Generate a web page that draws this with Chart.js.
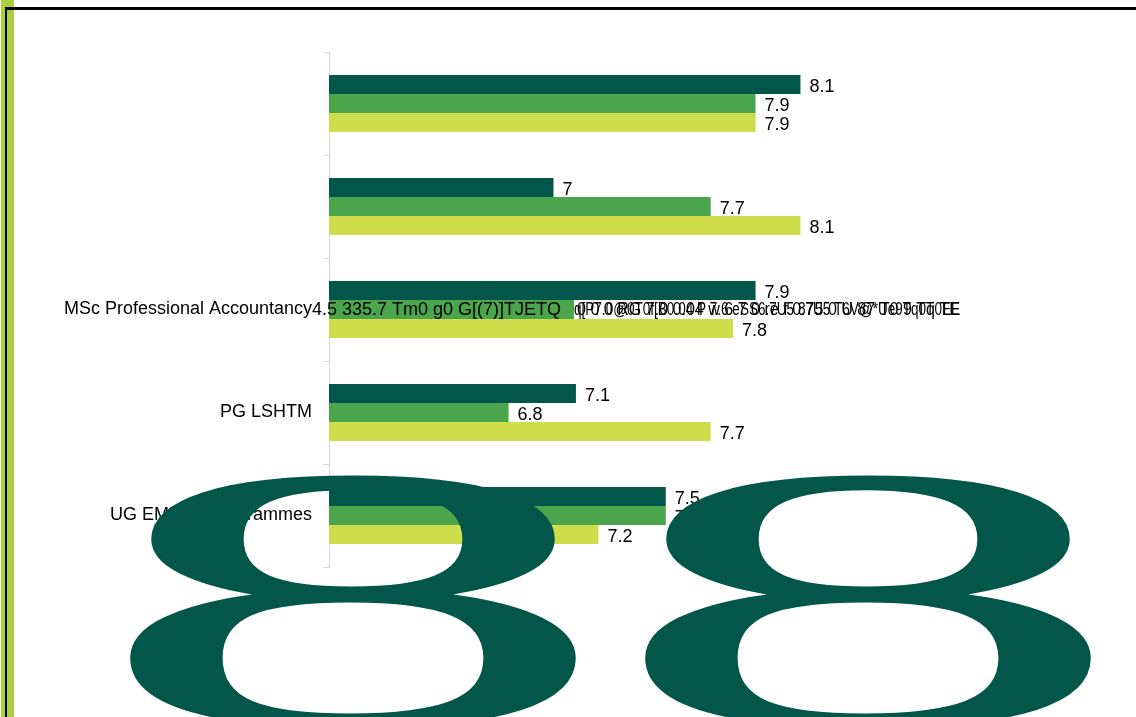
<!DOCTYPE html>
<html>
<head>
<meta charset="utf-8">
<script src="https://cdn.jsdelivr.net/npm/chart.js@4.4.1/dist/chart.umd.min.js"></script>
<style>
  html, body { margin: 0; padding: 0; background: #fff; overflow: hidden; }
  #wrap { position: relative; width: 1136px; height: 717px; }
</style>
</head>
<body>
<div id="wrap"><canvas id="chart" width="1136" height="717"></canvas></div>
<script>
// categorias (las dos primeras vienen sin texto en el original)
const categories = ["", "", "MSc Professional Accountancy", "PG LSHTM", "UG EMFSS Programmes"];

// series
const seriesNames = ["Series 1", "Series 2", "Series 3"];
const darkValues = [8.1, 7.0, 7.9, 7.1, 7.5];
const midValues = [7.9, 7.7, 7.1, 6.8, 7.5];
const lightValues = [7.9, 8.1, 7.8, 7.7, 7.2];

// texto basura que quedo pegado a la etiqueta del MSc
const garbledTail = "4.5 335.7 Tm0 g0 G[(7)]TJETQ";
const garbledOverprint = [
    "q[P7.0@0T0f[B0.04 P 7.6 eSS6.7U5 87U5 T6V@*Ue9Tq0T0EE",
    "0 0 0 RG 7.0 0.04 w 6 7 0 re f 0.75 0 U 87 T0 9 Tq TE"
];
const bigGlyphs = "88";

const COLORS = ["#02574a", "#4aa54d", "#cddd4c"];
const FONT = '"Liberation Sans", Arial, sans-serif';

const overlayPlugin = {
    id: "overlay",
    afterDraw(chart) {
        const ctx = chart.ctx;
        ctx.save();

        // etiquetas de valor
        ctx.font = "18px " + FONT;
        ctx.fillStyle = "#000";
        ctx.textBaseline = "middle";
        ctx.textAlign = "left";
        chart.data.datasets.forEach((ds, di) => {
            const meta = chart.getDatasetMeta(di);
            meta.data.forEach((bar, i) => {
                ctx.fillText(String(ds.data[i]), bar.x + 9, bar.y + 3);
            });
        });

        // cola de texto roto del MSc
        const yScale = chart.scales.y;
        const rowY = yScale.getPixelForValue(2);
        const labelRight = chart.chartArea.left - 17;
        ctx.fillText(garbledTail, labelRight, rowY + 1);

        const midBar = chart.getDatasetMeta(1).data[2];
        const startX = 574, endX = 960;
        ctx.fillStyle = "#fff";
        ctx.fillRect(startX, midBar.y - midBar.height / 2, endX - startX, midBar.height);
        ctx.fillStyle = "#000";
        garbledOverprint.forEach((s, k) => {
            ctx.fillText(s, startX + k * 3, rowY + 1, endX - startX - k * 3);
        });

        // los dos "8" gigantes
        const targetH = 257, targetW = 460, top = 473;
        const lefts = [123, 638];
        ctx.font = '400px "Liberation Serif", "Times New Roman", serif';
        ctx.textBaseline = "alphabetic";
        const m = ctx.measureText("8");
        const gH = m.actualBoundingBoxAscent + m.actualBoundingBoxDescent;
        const gW = m.actualBoundingBoxLeft + m.actualBoundingBoxRight;
        const s = targetH / gH;
        const sx = targetW / (gW * s);
        ctx.fillStyle = "#02574a";
        bigGlyphs.split("").forEach((ch, k) => {
            ctx.save();
            ctx.translate(lefts[k], top);
            ctx.scale(s * sx, s);
            ctx.fillText(ch, m.actualBoundingBoxLeft, m.actualBoundingBoxAscent);
            ctx.restore();
        });

        // marco: franja verde y lineas negras
        ctx.fillStyle = "#aad13b";
        ctx.fillRect(1, 0, 13, chart.height);
        ctx.fillStyle = "#000";
        ctx.fillRect(5, 7, 2, chart.height - 7);
        ctx.fillRect(5, 7, chart.width - 5, 3);

        ctx.restore();
    }
};

new Chart(document.getElementById("chart"), {
    type: "bar",
    data: {
        labels: categories,
        datasets: [
            { label: seriesNames[0], data: darkValues, backgroundColor: COLORS[0] },
            { label: seriesNames[1], data: midValues, backgroundColor: COLORS[1] },
            { label: seriesNames[2], data: lightValues, backgroundColor: COLORS[2] }
        ]
    },
    options: {
        indexAxis: "y",
        responsive: false,
        animation: false,
        categoryPercentage: 0.553,
        barPercentage: 1,
        layout: { padding: { top: 52, bottom: 150, left: 0, right: 133.5 } },
        plugins: { legend: { display: false }, tooltip: { enabled: false } },
        scales: {
            x: { display: false, min: 6, max: 9 },
            y: {
                afterFit: (scale) => { scale.width = 329; },
                grid: { drawOnChartArea: false, tickLength: 6, color: "#d9d9d9" },
                border: { color: "#d9d9d9" },
                ticks: { color: "#000", padding: 11, font: { size: 18, family: FONT } }
            }
        }
    },
    plugins: [overlayPlugin]
});
</script>
</body>
</html>
